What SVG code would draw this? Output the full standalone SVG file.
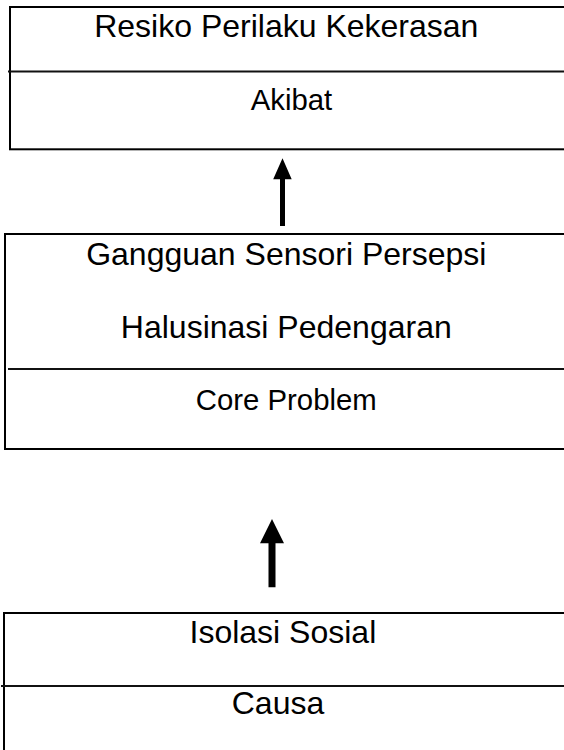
<svg xmlns="http://www.w3.org/2000/svg" width="564" height="750" viewBox="0 0 564 750">
<style>
.box{fill:#fff;stroke:#000;stroke-width:2}
.div{stroke:#111;stroke-width:1.8}
.t{font-family:"Liberation Sans",Arial,sans-serif;fill:#000;text-anchor:middle}
.h{font-size:32px}
.s{font-size:29.33px}
.arr{fill:#000;stroke:none}
</style>
<rect width="564" height="750" fill="#fff"/>
<g id="akibat">
<rect class="box" x="10" y="7" width="600" height="142.3"/>
<line class="div" x1="8" y1="71.5" x2="564" y2="71.5"/>
<text class="t h" x="286.3" y="37.4">Resiko Perilaku Kekerasan</text>
<text class="t s" x="291.5" y="109.5">Akibat</text>
</g>
<g id="core">
<rect class="box" x="5" y="234" width="600" height="215"/>
<line class="div" x1="8" y1="369" x2="564" y2="369"/>
<text class="t h" x="286.3" y="264.8">Gangguan Sensori Persepsi</text>
<text class="t h" x="286.3" y="337.6">Halusinasi Pedengaran</text>
<text class="t s" x="286.3" y="409.8">Core Problem</text>
</g>
<g id="causa">
<rect class="box" x="4" y="613" width="600" height="200"/>
<line class="div" x1="1" y1="686" x2="564" y2="686"/>
<text class="t h" x="282.9" y="643.3">Isolasi Sosial</text>
<text class="t h" x="278" y="714">Causa</text>
</g>
<g id="connectors">
<polygon class="arr" points="280,226 285,226 285,179.3 291.7,179.3 282.5,158.3 273.2,179.3 280,179.3"/>
<polygon class="arr" points="268.5,587.3 275.5,587.3 275.5,543.3 284,543.3 272,519 260,543.3 268.5,543.3"/>
</g>
</svg>
